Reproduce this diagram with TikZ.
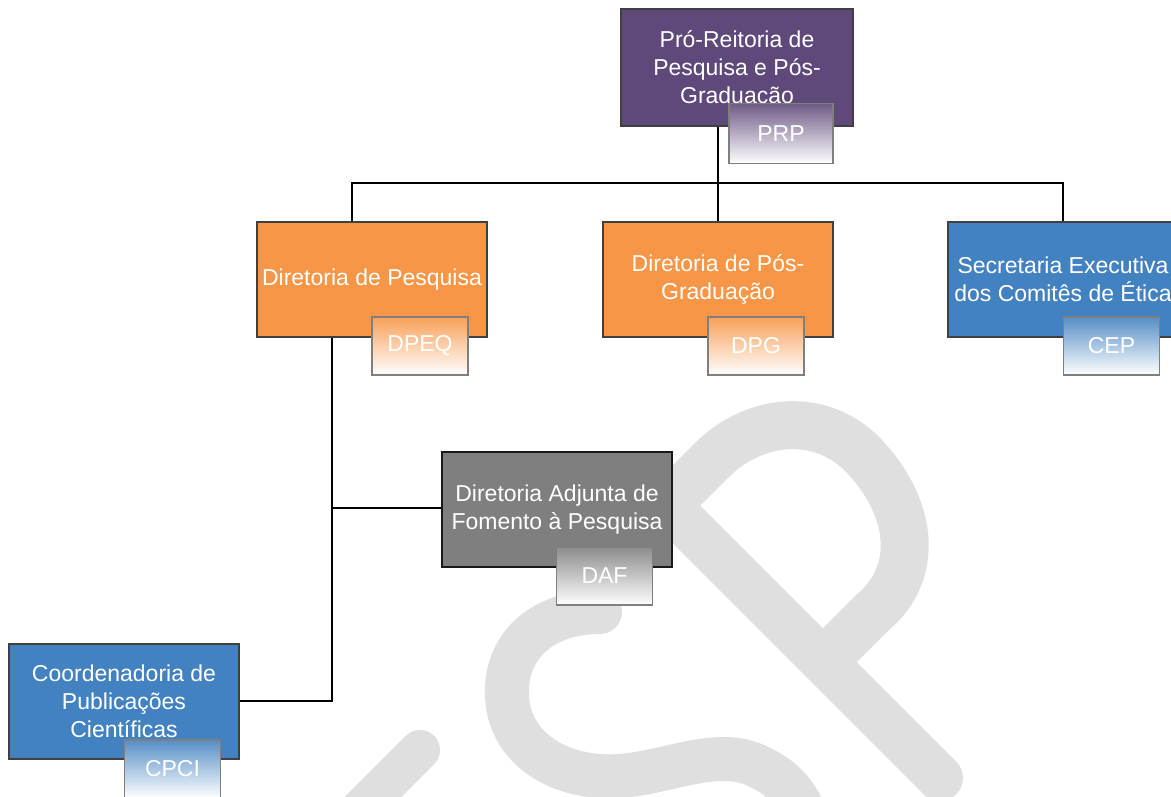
\documentclass[tikz,border=0pt]{standalone}
\usepackage{fontspec}
\setmainfont{Liberation Sans}
\definecolor{cpurple}{HTML}{5F497A}
\definecolor{corange}{HTML}{F79646}
\definecolor{cblue}{HTML}{4382C1}
\definecolor{cgray}{HTML}{7F7F7F}
\definecolor{cborder}{HTML}{404040}
\definecolor{clblborder}{HTML}{7F7F7F}
\definecolor{cwm}{HTML}{DFDFDF}
\tikzset{
  mainbox/.style={draw=cborder, line width=1.6pt, minimum width=230pt, minimum height=115pt,
    text=white, align=center, inner sep=0pt, font=\fontsize{23}{28}\selectfont},
  labelbox/.style={draw=clblborder, line width=1.6pt, minimum width=96pt, minimum height=58pt,
    text=white, inner sep=0pt, font=\fontsize{23}{28}\selectfont, bottom color=white},
  conn/.style={draw=black, line width=1.6pt},
  wmstroke/.style={draw=cwm, line cap=round, line join=round}
}
\begin{document}
\begin{tikzpicture}[x=1pt,y=-1pt]
\useasboundingbox (0,0) rectangle (1171,797);
\begin{scope}
\clip (0,0) rectangle (1171,797);
\fill[white] (0,0) rectangle (1171,797);
% watermark
\draw[wmstroke, line width=46pt] (640,478) -- (940,778);
\draw[wmstroke, line width=48pt, line cap=butt] (667,505) -- (712,460) .. controls (754,418) and (822,410) .. (866,458) .. controls (915,512) and (918,575) .. (872,613) -- (823,662);
\draw[wmstroke, line width=44pt] (600,612) .. controls (540,612) and (505,648) .. (507,695) .. controls (508,745) and (555,780) .. (620,776) .. controls (670,772) and (715,748) .. (755,765) .. controls (780,776) and (795,790) .. (805,815);
\draw[wmstroke, line width=40pt] (420,750) -- (330,840);
% coordinates for connectors
\coordinate (bus) at (0,183);
\coordinate (dpeqtop) at (352,222);
\coordinate (trunktop) at (332,337);
\coordinate (prpbot) at (718,126);
% connectors (drawn under boxes)
\draw[conn] (prpbot) -- (718,222);
\draw[conn] (dpeqtop) -- (dpeqtop |- bus) -- (1063,183) -- (1063,222);
\coordinate (cpcijoin) at (240,701);
\coordinate (dafjoin) at (442,508);
\draw[conn] (trunktop) -- (trunktop |- cpcijoin) -- (cpcijoin);
\draw[conn] (trunktop |- dafjoin) -- (dafjoin);
% nodes
\node[mainbox, fill=cpurple, minimum width=232pt, minimum height=117pt] (prp) at (737,67.5) {Pró-Reitoria de\\Pesquisa e Pós-\\Graduacão};
\node[mainbox, fill=corange] (dpeq) at (372,279.5) {Diretoria de Pesquisa};
\node[mainbox, fill=corange] (dpg) at (718,279.5) {Diretoria de Pós-\\Graduação};
\node[mainbox, fill=cblue] (cep) at (1063,279.5) {Secretaria Executiva\\dos Comitês de Ética};
\node[mainbox, fill=cgray, draw=black!90] (daf) at (557,509.5) {Diretoria Adjunta de\\Fomento à Pesquisa};
\node[mainbox, fill=cblue] (cpci) at (124,701.5) {Coordenadoria de\\Publicações\\Científicas};
% label boxes
\node[labelbox, top color=cpurple!90, minimum width=104pt, minimum height=60pt] (prpl) at (781,133.5) {PRP};
\node[labelbox, top color=corange!90] (dpeql) at (420,346) {DPEQ};
\node[labelbox, top color=corange!90] (dpgl) at (756,346) {DPG};
\node[labelbox, top color=cblue!90] (cepl) at (1111.5,346) {CEP};
\node[labelbox, top color=cgray!90] (dafl) at (604.5,576) {DAF};
\node[labelbox, top color=cblue!90] (cpcil) at (172.5,769) {CPCI};
\end{scope}
\end{tikzpicture}
\end{document}
